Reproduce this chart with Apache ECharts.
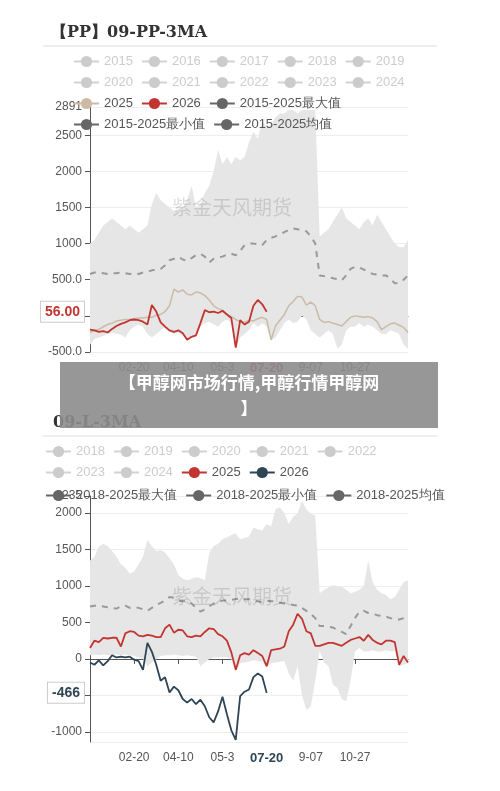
<!DOCTYPE html>
<html><head><meta charset="utf-8">
<script src="https://cdn.jsdelivr.net/npm/echarts@6/dist/echarts.min.js"></script>
<style>
html,body{margin:0;padding:0;background:#fff;width:500px;height:791px;overflow:hidden;font-family:"Noto Sans CJK SC","Noto Sans",sans-serif}
#c1{position:absolute;left:0;top:0;width:500px;height:400px}
#c2{position:absolute;left:0;top:400px;width:500px;height:391px}
#banner{position:absolute;left:60px;top:362px;width:378px;height:66px;background:rgba(140,140,140,0.9);color:#fff;font-weight:bold;font-size:17px;line-height:26px;text-align:center;padding-top:7px;box-sizing:border-box}
</style></head><body>
<div id="c1"></div><div id="c2"></div>
<div id="banner">【甲醇网市场行情,甲醇行情甲醇网<br>】</div>
<script>
// ---- shared x axis ----
const tickLabels = {10:'02-20',20:'04-10',30:'05-3',40:'07-20',50:'9-07',60:'10-27'};
const nPoints = 73;

// ---- top chart (PP) ----
const ppOldYears = ['2015','2016','2017','2018','2019','2020','2021','2022','2023','2024'];
const ppMax = [1000,1050,1150,1250,1300,1350,1300,1250,1200,1250,1200,1150,1200,1250,1550,1700,1600,1550,1500,1450,1450,1500,1600,1800,1500,1550,1700,1800,2000,2300,2100,2200,2100,2200,2150,2200,2400,2550,2450,2700,2600,2650,2750,2800,2800,2850,2850,2800,2850,2850,2850,2850,1100,1150,1200,1300,1400,1500,1350,1300,1250,1200,1300,1350,1250,1400,1300,1200,1100,1000,950,950,1050];
const ppMin = [-400,-320,-300,-280,-250,-230,-250,-260,-300,-200,-150,-120,-150,-250,-300,-250,-200,-150,-220,-250,-240,-260,-340,-300,-280,-150,-100,-80,-120,-150,-80,-50,-100,-450,-300,-250,-200,-100,-150,-100,-150,-340,-300,-200,-100,-50,-100,-80,0,-50,-200,-250,-300,-250,-200,-250,-450,-400,-200,-150,-150,-100,-150,-120,-150,-200,-250,-250,-200,-220,-250,-400,-450];
const ppAvg = [580,600,600,590,580,590,590,600,590,580,590,580,600,610,630,640,650,700,770,790,820,780,760,800,840,860,820,740,790,810,820,850,860,840,900,980,1000,1000,990,980,1050,1080,1100,1130,1160,1190,1210,1200,1180,1170,1100,1000,560,550,540,520,510,490,560,650,680,670,640,610,580,570,560,560,520,450,460,500,560];
const pp2025 = [-230,-200,-190,-150,-120,-100,-70,-60,-50,-50,-40,-30,-30,-20,-20,10,20,60,140,370,330,360,300,290,330,320,280,220,140,100,80,20,-10,-50,-80,-90,-60,-70,-40,-20,-50,-330,-140,-60,20,140,200,270,260,150,190,140,-50,-90,-80,-100,-120,-140,-80,-20,0,-10,-20,-10,-30,-80,-190,-150,-110,-100,-130,-160,-230];
const pp2026 = [-190,-200,-220,-210,-230,-180,-140,-110,-90,-60,-50,-60,-80,-120,150,60,-90,-150,-200,-220,-200,-240,-330,-290,-270,-100,80,50,60,40,70,20,-30,-440,-60,-120,-80,140,220,160,56];

// ---- bottom chart (L) ----
const lOldYears = ['2018','2019','2020','2021','2022','2023','2024'];
const lMax = [1350,1400,1540,1580,1550,1480,1400,1300,1250,1170,1200,1300,1400,1630,1550,1480,1490,1460,1380,1300,1150,1100,1080,1100,1120,1110,1080,1450,1550,1580,1640,1670,1700,1720,1640,1660,1680,1800,1780,1760,1850,1820,2050,2080,2000,1850,1950,2000,2170,2050,1990,1970,900,950,980,1010,1000,990,950,900,920,950,1000,1350,1050,950,900,880,820,850,950,1050,1080];
const lMinV = [50,60,50,60,50,50,60,50,60,50,40,20,0,-100,-50,0,40,50,50,60,50,40,50,40,30,-100,-50,0,20,20,30,20,0,-180,-60,-50,-40,-20,-30,-40,-120,-60,-50,-40,-30,-200,-300,-100,-500,-700,-650,-300,100,-50,-100,-350,-400,-550,-580,-300,100,150,100,100,120,100,100,120,100,110,-100,-80,-60];
const lAvg = [720,730,730,720,710,700,690,720,730,700,710,700,680,660,700,740,770,800,850,840,800,790,800,760,700,650,680,720,760,780,800,800,810,820,830,820,820,800,790,780,800,790,790,770,760,750,740,730,700,660,620,560,450,450,440,430,400,370,340,450,560,650,660,630,620,600,590,580,560,540,540,560,610];
const l2025 = [150,250,230,290,280,290,290,170,350,380,370,320,310,330,320,300,300,420,470,360,400,390,310,300,320,310,370,420,410,340,310,250,90,-150,50,80,60,120,80,40,-100,120,130,140,170,380,470,620,550,380,350,180,180,200,220,220,200,180,220,260,280,300,250,330,260,220,200,250,250,230,-80,40,-50];
const l2026 = [-50,-80,-20,-90,-30,50,20,30,20,30,-10,-30,-150,220,100,-80,-300,-250,-460,-380,-430,-550,-600,-550,-620,-560,-650,-800,-870,-720,-520,-760,-980,-1110,-510,-450,-420,-250,-200,-240,-466];

const cats = Array.from({length:nPoints},(_,i)=>tickLabels[i]||'');
const diff = (a,b)=>a.map((v,i)=>v-b[i]);

function xAxis(hl){
  return {type:'category',data:cats,boundaryGap:false,
    axisLine:{lineStyle:{color:'#555'}},
    axisTick:{interval:(i,v)=>v!=='',lineStyle:{color:'#555'}},
    axisLabel:{interval:0,color:'#555',fontSize:12,margin:10,
      formatter:v=>v==='07-20'?'{h|07-20}':v,
      rich:{h:{color:hl,fontWeight:'bold',fontSize:13}}},
    splitLine:{show:false}};
}
function yAxisBase(){
  return {type:'value',axisLine:{show:true,lineStyle:{color:'#555'}},axisTick:{show:true},
    axisLabel:{color:'#555',fontSize:12},splitLine:{lineStyle:{color:'#eee'}}};
}
function oldSeries(names){return names.map(n=>({name:n,type:'line',data:[],symbol:'circle',color:'#ccc'}));}
function bandSeries(pref,max,min,avg){
  return [
    {name:pref+'最小值',type:'line',stack:'b',stackStrategy:'all',data:min,symbol:'circle',showSymbol:false,color:'#666',lineStyle:{width:0},silent:true,z:1},
    {name:pref+'最大值',type:'line',stack:'b',stackStrategy:'all',data:diff(max,min),symbol:'circle',showSymbol:false,color:'#666',lineStyle:{width:0},areaStyle:{color:'#e6e6e6',opacity:1},silent:true,z:1},
    {name:pref+'均值',type:'line',data:avg,symbol:'circle',showSymbol:false,color:'#666',lineStyle:{color:'#999',type:[6,6],width:2},z:2}
  ];
}
function endMark(val,txt,col){
  return {symbol:'none',silent:true,lineStyle:{width:0,color:'rgba(0,0,0,0)'},data:[{yAxis:val}],
    label:{show:true,position:'start',formatter:txt,color:col,fontWeight:'bold',fontSize:14,backgroundColor:'#fff',borderColor:'#ccc',borderWidth:1,padding:[3,4],distance:6}};
}
function legendSel(old){const s={};old.forEach(n=>s[n]=false);return s;}
const solid={color:'#666',width:2,type:'solid',opacity:1};
function statLeg(pref){
  return [{name:pref+'最大值',lineStyle:solid},{name:pref+'最小值',lineStyle:solid},{name:pref+'均值',lineStyle:solid}];
}
const legText={color:'#555',fontSize:13};
const wm={type:'text',z:100,style:{text:'紫金天风期货',fill:'rgba(0,0,0,0.13)',font:'20px "Noto Sans CJK SC"'}};

// top
const c1 = echarts.init(document.getElementById('c1'));
c1.setOption({
  animation:false,
  title:{text:'【PP】09-PP-3MA',left:46,top:20,textStyle:{fontFamily:'"DejaVu Serif",serif',fontWeight:'bold',fontSize:16,color:'#333'}},
  graphic:[{type:'line',shape:{x1:43,y1:46,x2:437,y2:46},style:{stroke:'#ddd',lineWidth:1}},
    Object.assign({},wm,{left:172,top:197})],
  legend:{left:68,top:50,width:360,itemGap:8,itemWidth:25,itemHeight:14,textStyle:legText,inactiveColor:'#ccc',
    selected:legendSel(ppOldYears),data:[...ppOldYears,'2025','2026',...statLeg('2015-2025')]},
  grid:{left:90,right:92,top:107,bottom:48},
  xAxis:xAxis('#c23531'),
  yAxis:Object.assign(yAxisBase(),{min:-500,max:2891,interval:500,axisLabel:{color:'#555',fontSize:12,formatter:v=>Number(v).toPrecision(4)}}),
  series:[...oldSeries(ppOldYears),
    ...bandSeries('2015-2025',ppMax,ppMin,ppAvg),
    {name:'2025',type:'line',data:pp2025,symbol:'circle',showSymbol:false,color:'#cbbba6',lineStyle:{width:1.5},z:3},
    {name:'2026',type:'line',data:pp2026,symbol:'circle',showSymbol:false,color:'#c23531',lineStyle:{width:1.8},z:4,markLine:endMark(56,'56.00','#c23531')}
  ]
});

// bottom
const c2 = echarts.init(document.getElementById('c2'));
c2.setOption({
  animation:false,
  title:{text:'09-L-3MA',left:48,top:10,textStyle:{fontFamily:'"DejaVu Serif",serif',fontWeight:'bold',fontSize:16,color:'#333'}},
  graphic:[{type:'line',shape:{x1:43,y1:36,x2:437,y2:36},style:{stroke:'#ddd',lineWidth:1}},
    Object.assign({},wm,{left:172,top:186})],
  legend:[
    {left:40,top:40,width:395,itemGap:8,itemWidth:25,itemHeight:14,textStyle:legText,inactiveColor:'#ccc',
      selected:legendSel(lOldYears),data:[...lOldYears,'2025','2026']},
    {left:40,top:84,width:460,itemGap:8,itemWidth:25,itemHeight:14,textStyle:legText,data:statLeg('2018-2025')}
  ],
  grid:{left:90,right:92,top:96,bottom:49},
  xAxis:xAxis('#2f4554'),
  yAxis:Object.assign(yAxisBase(),{min:-1140,max:2235,axisLabel:{color:'#555',fontSize:12,showMinLabel:false,formatter:v=>String(v)}}),
  series:[...oldSeries(lOldYears),
    ...bandSeries('2018-2025',lMax,lMinV,lAvg),
    {name:'2025',type:'line',data:l2025,symbol:'circle',showSymbol:false,color:'#c23531',lineStyle:{width:1.8},z:3},
    {name:'2026',type:'line',data:l2026,symbol:'circle',showSymbol:false,color:'#2f4554',lineStyle:{width:1.8},z:4,markLine:endMark(-466,'-466','#2f4554')}
  ]
});
</script></body></html>
